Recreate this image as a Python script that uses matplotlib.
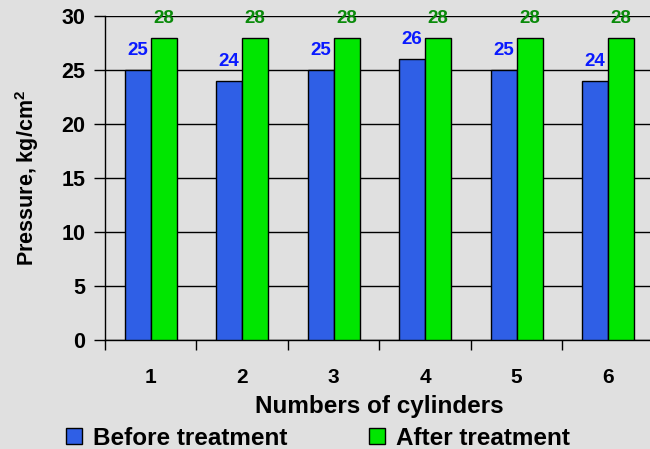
import matplotlib
matplotlib.use("Agg")
import matplotlib.pyplot as plt
import numpy as np
from matplotlib.patches import Patch

plt.rcParams['font.family'] = ['Liberation Sans', 'DejaVu Sans']
plt.rcParams['font.weight'] = 'bold'
plt.rcParams['mathtext.fontset'] = 'custom'
plt.rcParams['mathtext.bf'] = 'Liberation Sans:bold'
plt.rcParams['mathtext.rm'] = 'Liberation Sans:bold'

cylinders = ['1', '2', '3', '4', '5', '6']
before = [25, 24, 25, 26, 25, 24]
after = [28, 28, 28, 28, 28, 28]

bg = '#e0e0e0'
blue = '#2f5fe6'
green = '#00e600'

fig = plt.figure(figsize=(6.5, 4.49), dpi=100, facecolor=bg)
ax = fig.add_axes([0.1615, 0.2428, 0.8445, 0.7216])
ax.set_facecolor(bg)

x = np.arange(len(cylinders))
w = 0.285
ax.bar(x - w / 2, before, w, color=blue, edgecolor='black', linewidth=1, zorder=3)
ax.bar(x + w / 2, after, w, color=green, edgecolor='black', linewidth=1, zorder=3)

for xi, v in zip(x, before):
    ax.text(xi - w / 2, v + 1.0, str(v), ha='center', va='bottom', color='#0a1aff',
            fontsize=13.5, fontweight='bold', zorder=4)
for xi, v in zip(x, after):
    ax.text(xi + w / 2, v + 1.0, str(v), ha='center', va='bottom', color='#0a8a0a',
            fontsize=13.5, fontweight='bold', zorder=4)

ax.set_xlim(-0.5, 5.5)
ax.set_ylim(0, 30)
ax.set_yticks(range(0, 31, 5))
ax.yaxis.grid(True, color='black', linewidth=1)
ax.set_axisbelow(True)
ax.set_xticks(x)
ax.set_xticklabels(cylinders)
ax.set_xticks(np.arange(-0.5, 6, 1), minor=True)
ax.tick_params(axis='x', which='major', length=0, pad=20, labelsize=15)
ax.tick_params(axis='x', which='minor', length=7, width=1)
ax.tick_params(axis='y', length=8, width=1, labelsize=15.5, pad=6)
for lab in ax.get_xticklabels() + ax.get_yticklabels():
    lab.set_fontweight('bold')

for s in ['top', 'right']:
    ax.spines[s].set_visible(False)
ax.spines['left'].set_linewidth(1)
ax.spines['bottom'].set_linewidth(1)

ax.set_xlabel('Numbers of cylinders', fontsize=17.5, fontweight='bold', labelpad=6)
ax.set_ylabel(r'Pressure, kg/cm$^\mathbf{2}$', fontsize=15.5, fontweight='bold', labelpad=15)

legend_items = [('Before treatment', blue, 0.1015), ('After treatment', green, 0.5677)]
for label, col, xpos in legend_items:
    lg = fig.legend([Patch(facecolor=col, edgecolor='black')], [label], loc='center left',
                    bbox_to_anchor=(xpos, 0.024), frameon=False, borderpad=0, borderaxespad=0,
                    prop={'weight': 'bold', 'size': 17.5}, handlelength=0.65, handleheight=0.65,
                    handletextpad=0.45)

fig.savefig('out.png', dpi=100, facecolor=bg)
